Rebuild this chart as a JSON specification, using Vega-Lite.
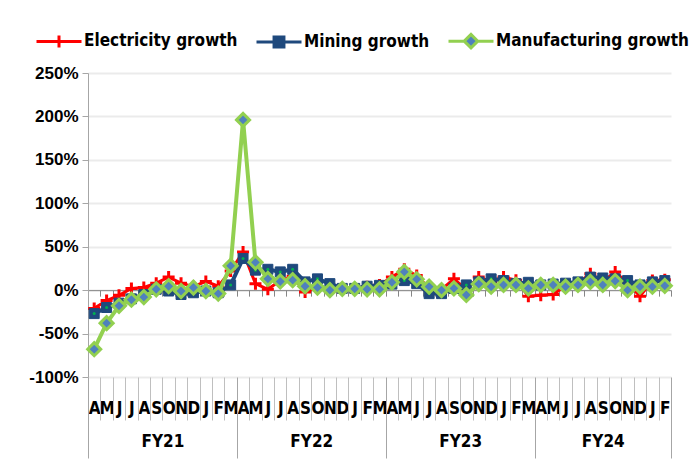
{
  "$schema": "https://vega.github.io/schema/vega-lite/v6.json",
  "width": 583,
  "height": 304,
  "autosize": {"type": "none"},
  "padding": {"left": 88, "top": 73, "right": 23, "bottom": 99},
  "background": "white",
  "config": {"view": {"stroke": null}},
  "data": {"values": [
    {"t": 0, "month": "A", "fy": "FY21", "electricity": -21, "mining": -27, "manufacturing": -68},
    {"t": 1, "month": "M", "fy": "FY21", "electricity": -12, "mining": -20, "manufacturing": -38},
    {"t": 2, "month": "J", "fy": "FY21", "electricity": -6, "mining": -15, "manufacturing": -18},
    {"t": 3, "month": "J", "fy": "FY21", "electricity": 2, "mining": -10, "manufacturing": -11},
    {"t": 4, "month": "A", "fy": "FY21", "electricity": 3, "mining": -5, "manufacturing": -8},
    {"t": 5, "month": "S", "fy": "FY21", "electricity": 8, "mining": 1, "manufacturing": 1},
    {"t": 6, "month": "O", "fy": "FY21", "electricity": 15, "mining": -1, "manufacturing": 4.5},
    {"t": 7, "month": "N", "fy": "FY21", "electricity": 8, "mining": -5, "manufacturing": -1},
    {"t": 8, "month": "D", "fy": "FY21", "electricity": 4, "mining": -3, "manufacturing": 3},
    {"t": 9, "month": "J", "fy": "FY21", "electricity": 10, "mining": -1, "manufacturing": -1},
    {"t": 10, "month": "F", "fy": "FY21", "electricity": 4.5, "mining": -3, "manufacturing": -4},
    {"t": 11, "month": "M", "fy": "FY21", "electricity": 22, "mining": 6, "manufacturing": 28},
    {"t": 12, "month": "A", "fy": "FY22", "electricity": 44, "mining": 36.5, "manufacturing": 196},
    {"t": 13, "month": "M", "fy": "FY22", "electricity": 7.5, "mining": 23, "manufacturing": 32},
    {"t": 14, "month": "J", "fy": "FY22", "electricity": 1, "mining": 24, "manufacturing": 13},
    {"t": 15, "month": "J", "fy": "FY22", "electricity": 11, "mining": 21, "manufacturing": 10},
    {"t": 16, "month": "A", "fy": "FY22", "electricity": 16, "mining": 24, "manufacturing": 11.5},
    {"t": 17, "month": "S", "fy": "FY22", "electricity": -2, "mining": 9.5, "manufacturing": 4.5},
    {"t": 18, "month": "O", "fy": "FY22", "electricity": 3, "mining": 13, "manufacturing": 3},
    {"t": 19, "month": "N", "fy": "FY22", "electricity": 2, "mining": 7.5, "manufacturing": 0},
    {"t": 20, "month": "D", "fy": "FY22", "electricity": 2, "mining": 2, "manufacturing": 1.5},
    {"t": 21, "month": "J", "fy": "FY22", "electricity": 1, "mining": 2, "manufacturing": 1.5},
    {"t": 22, "month": "F", "fy": "FY22", "electricity": 4, "mining": 4.5, "manufacturing": 1},
    {"t": 23, "month": "M", "fy": "FY22", "electricity": 6, "mining": 5.5, "manufacturing": 1},
    {"t": 24, "month": "A", "fy": "FY23", "electricity": 15, "mining": 7, "manufacturing": 9},
    {"t": 25, "month": "M", "fy": "FY23", "electricity": 24, "mining": 11, "manufacturing": 21},
    {"t": 26, "month": "J", "fy": "FY23", "electricity": 17, "mining": 7.5, "manufacturing": 12.5},
    {"t": 27, "month": "J", "fy": "FY23", "electricity": 2, "mining": -4, "manufacturing": 4},
    {"t": 28, "month": "A", "fy": "FY23", "electricity": 1, "mining": -4, "manufacturing": 0},
    {"t": 29, "month": "S", "fy": "FY23", "electricity": 13, "mining": 2, "manufacturing": 2},
    {"t": 30, "month": "O", "fy": "FY23", "electricity": 1, "mining": 6, "manufacturing": -5.5},
    {"t": 31, "month": "N", "fy": "FY23", "electricity": 15, "mining": 9.5, "manufacturing": 7},
    {"t": 32, "month": "D", "fy": "FY23", "electricity": 10, "mining": 13, "manufacturing": 4},
    {"t": 33, "month": "J", "fy": "FY23", "electricity": 15, "mining": 11, "manufacturing": 6},
    {"t": 34, "month": "F", "fy": "FY23", "electricity": 11.5, "mining": 7.5, "manufacturing": 6},
    {"t": 35, "month": "M", "fy": "FY23", "electricity": -7, "mining": 9, "manufacturing": 2},
    {"t": 36, "month": "A", "fy": "FY24", "electricity": -6, "mining": 6, "manufacturing": 6},
    {"t": 37, "month": "M", "fy": "FY24", "electricity": -5, "mining": 7, "manufacturing": 6},
    {"t": 38, "month": "J", "fy": "FY24", "electricity": 5, "mining": 8, "manufacturing": 4},
    {"t": 39, "month": "J", "fy": "FY24", "electricity": 8, "mining": 9.5, "manufacturing": 6},
    {"t": 40, "month": "A", "fy": "FY24", "electricity": 19, "mining": 15, "manufacturing": 9.5},
    {"t": 41, "month": "S", "fy": "FY24", "electricity": 10, "mining": 14, "manufacturing": 6},
    {"t": 42, "month": "O", "fy": "FY24", "electricity": 21, "mining": 13, "manufacturing": 10.5},
    {"t": 43, "month": "N", "fy": "FY24", "electricity": 8, "mining": 11, "manufacturing": 0},
    {"t": 44, "month": "D", "fy": "FY24", "electricity": -7, "mining": 6, "manufacturing": 4},
    {"t": 45, "month": "J", "fy": "FY24", "electricity": 11, "mining": 9.5, "manufacturing": 4},
    {"t": 46, "month": "F", "fy": "FY24", "electricity": 12, "mining": 11, "manufacturing": 5}
  ]},
  "resolve": {"axis": {"x": "independent", "y": "independent"}},
  "layer": [
    {
      "mark": {"type": "line", "strokeWidth": 3},
      "encoding": {
        "x": {"field": "t", "type": "quantitative", "scale": {"domain": [-0.5, 46.5], "nice": false, "zero": false},
          "axis": {"orient": "bottom", "offset": -86.86, "title": null, "labels": false, "grid": false,
            "values": [-0.5,0.5,1.5,2.5,3.5,4.5,5.5,6.5,7.5,8.5,9.5,10.5,11.5,12.5,13.5,14.5,15.5,16.5,17.5,18.5,19.5,20.5,21.5,22.5,23.5,24.5,25.5,26.5,27.5,28.5,29.5,30.5,31.5,32.5,33.5,34.5,35.5,36.5,37.5,38.5,39.5,40.5,41.5,42.5,43.5,44.5,45.5,46.5],
            "tickSize": 6, "tickColor": "#868686", "domainColor": "#868686", "domainWidth": 1}},
        "y": {"field": "electricity", "type": "quantitative", "scale": {"domain": [-100, 250], "nice": false, "zero": false}, "axis": null},
        "color": {"datum": "Electricity growth",
          "scale": {"domain": ["Electricity growth", "Mining growth", "Manufacturing growth"], "range": ["#FF0000", "#1F497D", "#92D050"]},
          "legend": {"orient": "none", "legendX": -53, "legendY": -56, "direction": "horizontal", "title": null,
            "padding": 0, "symbolSize": 2025, "symbolStrokeWidth": 3, "labelOffset": 1, "columnPadding": 12, "labelLimit": 400,
            "labelFont": "DejaVu Sans Condensed", "labelFontSize": 17, "labelFontWeight": "bold", "labelColor": "#000000",
            "encode": {"symbols": {"update": {
              "shape": {"signal": "datum.value === 'Electricity growth' ? 'M-1,0H1M0,-0.27V0.27' : datum.value === 'Mining growth' ? 'M-1,0H-0.22M0.22,0H1M-0.22,-0.22H0.22V0.22H-0.22Z' : 'M-1,0H-0.3M0.3,0H1M-0.3,0L0,-0.3L0.3,0L0,0.3Z'"},
              "fill": {"signal": "datum.value === 'Electricity growth' ? 'transparent' : datum.value === 'Mining growth' ? '#1F497D' : '#4F81BD'"},
              "strokeWidth": {"value": 3}
            }}}}
        }
      }
    },
    {
      "mark": {"type": "point", "shape": "M-1,0H1M0,-1V1", "size": 144, "filled": false, "stroke": "#FF0000", "strokeWidth": 3, "opacity": 1},
      "encoding": {
        "x": {"field": "t", "type": "quantitative", "scale": {"domain": [-0.5, 46.5], "nice": false, "zero": false},
          "axis": {"orient": "bottom", "title": null, "ticks": false, "domain": false, "grid": false,
            "values": [0,1,2,3,4,5,6,7,8,9,10,11,12,13,14,15,16,17,18,19,20,21,22,23,24,25,26,27,28,29,30,31,32,33,34,35,36,37,38,39,40,41,42,43,44,45,46],
            "labelExpr": "['A','M','J','J','A','S','O','N','D','J','F','M'][datum.value % 12]",
            "labelOverlap": false, "labelBound": false, "labelFlush": false, "labelPadding": 23,
            "labelFont": "DejaVu Sans Condensed", "labelFontSize": 17, "labelFontWeight": "bold", "labelColor": "#000000"}},
        "y": {"field": "electricity", "type": "quantitative", "scale": {"domain": [-100, 250], "nice": false, "zero": false}, "axis": null}
      }
    },
    {
      "mark": {"type": "line", "strokeWidth": 4},
      "encoding": {
        "x": {"field": "t", "type": "quantitative", "scale": {"domain": [-0.5, 46.5], "nice": false, "zero": false},
          "axis": {"orient": "bottom", "title": null, "labels": false, "domain": false, "grid": false,
            "values": [0.5,1.5,2.5,3.5,4.5,5.5,6.5,7.5,8.5,9.5,10.5,12.5,13.5,14.5,15.5,16.5,17.5,18.5,19.5,20.5,21.5,22.5,24.5,25.5,26.5,27.5,28.5,29.5,30.5,31.5,32.5,33.5,34.5,36.5,37.5,38.5,39.5,40.5,41.5,42.5,43.5,44.5,45.5],
            "tickSize": 43, "tickColor": "#BFBFBF", "tickWidth": 1}},
        "y": {"field": "mining", "type": "quantitative", "scale": {"domain": [-100, 250], "nice": false, "zero": false}, "axis": null},
        "color": {"datum": "Mining growth"}
      }
    },
    {
      "mark": {"type": "point", "shape": "square", "size": 100, "filled": true, "fill": "#1F497D", "stroke": "#1F497D", "strokeWidth": 1, "opacity": 1},
      "encoding": {
        "x": {"field": "t", "type": "quantitative", "scale": {"domain": [-0.5, 46.5], "nice": false, "zero": false},
          "axis": {"orient": "bottom", "title": null, "labels": false, "domain": false, "grid": false,
            "values": [-0.5, 11.5, 23.5, 35.5, 46.5], "tickSize": 81, "tickColor": "#A6A6A6", "tickWidth": 1}},
        "y": {"field": "mining", "type": "quantitative", "scale": {"domain": [-100, 250], "nice": false, "zero": false}, "axis": null}
      }
    },
    {
      "mark": {"type": "point", "shape": "circle", "size": 9, "filled": true, "color": "#00B050", "opacity": 1},
      "encoding": {
        "x": {"field": "t", "type": "quantitative", "scale": {"domain": [-0.5, 46.5], "nice": false, "zero": false},
          "axis": {"orient": "bottom", "title": null, "ticks": false, "domain": false, "grid": false,
            "values": [5.5, 17.5, 29.5, 41],
            "labelExpr": "'FY' + (21 + floor(datum.value / 12))",
            "labelOverlap": false, "labelBound": false, "labelFlush": false, "labelPadding": 56,
            "labelFont": "DejaVu Sans Condensed", "labelFontSize": 17, "labelFontWeight": "bold", "labelColor": "#000000"}},
        "y": {"field": "mining", "type": "quantitative", "scale": {"domain": [-100, 250], "nice": false, "zero": false}, "axis": null}
      }
    },
    {
      "mark": {"type": "line", "strokeWidth": 4},
      "encoding": {
        "x": {"field": "t", "type": "quantitative", "scale": {"domain": [-0.5, 46.5], "nice": false, "zero": false}, "axis": null},
        "y": {"field": "manufacturing", "type": "quantitative", "scale": {"domain": [-100, 250], "nice": false, "zero": false},
          "axis": {"orient": "left", "title": null, "values": [-100, -50, 0, 50, 100, 150, 200, 250],
            "labelExpr": "datum.value + '%'", "grid": true, "gridColor": "#EBEBEB", "gridWidth": 2,
            "domainColor": "#A6A6A6", "tickColor": "#A6A6A6", "tickSize": 6, "labelPadding": 4,
            "labelFont": "Liberation Sans", "labelFontSize": 17, "labelFontWeight": "bold", "labelColor": "#000000"}},
        "color": {"datum": "Manufacturing growth"}
      }
    },
    {
      "mark": {"type": "point", "shape": "diamond", "size": 170, "filled": true, "fill": "#4F81BD", "stroke": "#92D050", "strokeWidth": 3, "opacity": 1},
      "encoding": {
        "x": {"field": "t", "type": "quantitative", "scale": {"domain": [-0.5, 46.5], "nice": false, "zero": false}, "axis": null},
        "y": {"field": "manufacturing", "type": "quantitative", "scale": {"domain": [-100, 250], "nice": false, "zero": false}, "axis": null}
      }
    }
  ]
}
